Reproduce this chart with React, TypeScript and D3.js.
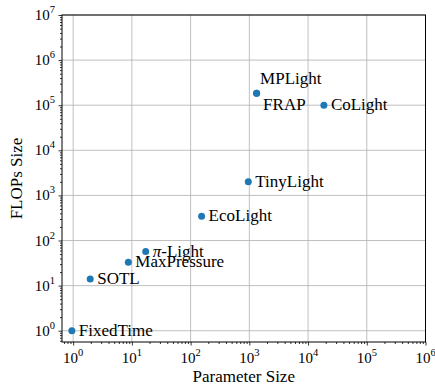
import { axisBottom, axisLeft, scaleLog, select } from "d3";
import { useEffect, useRef } from "react";

const methods = ["FixedTime", "SOTL", "MaxPressure", "π-Light", "EcoLight", "TinyLight", "MPLight", "FRAP", "CoLight"];
const paramSize = [0.95, 1.95, 8.7, 17.2, 154, 960, 1330, 1330, 18600];
const flopsSize = [1, 14, 33, 57, 345, 2000, 183000, 183000, 100000];
// where each name sits relative to its dot
const labelPlace = ["right", "right", "right", "right", "right", "right", "above", "below", "right"];

const xExponents = [0, 1, 2, 3, 4, 5, 6];
const yExponents = [0, 1, 2, 3, 4, 5, 6, 7];

const FONT = "Liberation Serif, Times New Roman, DejaVu Serif, serif";

function minorTicks(lo: number, hi: number) {
  const out: number[] = [];
  for (let e = lo; e < hi; e++) {
    for (let m = 2; m <= 9; m++) out.push(m * Math.pow(10, e));
  }
  return out;
}

function AxisBottom({ scale, height }) {
  const ref = useRef(null);
  useEffect(() => {
    if (!ref.current) return;
    const g = select(ref.current);
    g.selectAll("*").remove();
    g.append("g").call(
      axisBottom(scale).tickValues(minorTicks(-1, 6).filter((v) => v >= scale.domain()[0])).tickSize(2).tickFormat(() => "")
    );
    g.append("g").call(
      axisBottom(scale).tickValues(xExponents.map((e) => Math.pow(10, e))).tickSize(3.5).tickFormat(() => "")
    );
    g.selectAll(".domain").remove();
    g.selectAll("line").attr("stroke", "#000").attr("stroke-width", 0.8);
  }, [scale]);
  return <g ref={ref} transform={`translate(0, ${height})`} />;
}

function AxisLeft({ scale }) {
  const ref = useRef(null);
  useEffect(() => {
    if (!ref.current) return;
    const g = select(ref.current);
    g.selectAll("*").remove();
    g.append("g").call(
      axisLeft(scale).tickValues(minorTicks(-1, 7).filter((v) => v >= scale.domain()[0])).tickSize(2).tickFormat(() => "")
    );
    g.append("g").call(
      axisLeft(scale).tickValues(yExponents.map((e) => Math.pow(10, e))).tickSize(3.5).tickFormat(() => "")
    );
    g.selectAll(".domain").remove();
    g.selectAll("line").attr("stroke", "#000").attr("stroke-width", 0.8);
  }, [scale]);
  return <g ref={ref} />;
}

export default function App() {
  const W = 435;
  const H = 390;
  const margin = { top: 15, right: 9.5, bottom: 48, left: 62 };
  const width = W - margin.left - margin.right;
  const height = H - margin.top - margin.bottom;

  const x = scaleLog().domain([Math.pow(10, -0.19), 1e6]).range([0, width]);
  const y = scaleLog().domain([Math.pow(10, -0.25), 1e7]).range([height, 0]);

  return (
    <svg
      width={W}
      height={H}
      style={{ position: "absolute", left: 0, top: 0, background: "#fff", fontFamily: FONT }}
    >
      <g transform={`translate(${margin.left}, ${margin.top})`}>
        {/* grid */}
        {xExponents.map((e) => (
          <line key={`gx${e}`} x1={x(10 ** e)} x2={x(10 ** e)} y1={0} y2={height} stroke="#b0b0b0" strokeWidth={0.8} />
        ))}
        {yExponents.map((e) => (
          <line key={`gy${e}`} x1={0} x2={width} y1={y(10 ** e)} y2={y(10 ** e)} stroke="#b0b0b0" strokeWidth={0.8} />
        ))}

        <AxisBottom scale={x} height={height} />
        <AxisLeft scale={y} />

        {xExponents.map((e) => (
          <text key={`tx${e}`} x={x(10 ** e)} y={height + 21} textAnchor="middle" fontSize={15} fill="#000" style={{ fontFamily: FONT }}>
            10<tspan dy={-7} fontSize={10.5}>{e}</tspan>
          </text>
        ))}
        {yExponents.map((e) => (
          <text key={`ty${e}`} x={-7} y={y(10 ** e) + 5} textAnchor="end" fontSize={15} fill="#000" style={{ fontFamily: FONT }}>
            10<tspan dy={-7} fontSize={10.5}>{e}</tspan>
          </text>
        ))}

        <rect x={0} y={0} width={width} height={height} fill="none" stroke="#000" strokeWidth={1} />

        {methods.map((m, i) => (
          <circle key={`p${m}`} cx={x(paramSize[i])} cy={y(flopsSize[i])} r={3.5} fill="#1f77b4" />
        ))}
        {methods.map((m, i) => {
          const px = x(paramSize[i]);
          const py = y(flopsSize[i]);
          const place = labelPlace[i];
          const dx = place === "right" ? 7 : place === "above" ? 3.5 : 6.5;
          const dy = place === "right" ? 5 : place === "above" ? -9.5 : 17;
          return (
            <text key={`l${m}`} x={px + dx} y={py + dy} fontSize={17} fill="#000" style={{ fontFamily: FONT }}>
              {m === "π-Light" ? (
                <>
                  <tspan fontStyle="italic">π</tspan>-Light
                </>
              ) : (
                m
              )}
            </text>
          );
        })}

        <text x={width / 2} y={height + 40} textAnchor="middle" fontSize={17} fill="#000" style={{ fontFamily: FONT }}>
          Parameter Size
        </text>
        <text
          transform={`translate(${-40}, ${height / 2}) rotate(-90)`}
          textAnchor="middle"
          fontSize={17}
          fill="#000"
          style={{ fontFamily: FONT }}
        >
          FLOPs Size
        </text>
      </g>
    </svg>
  );
}
